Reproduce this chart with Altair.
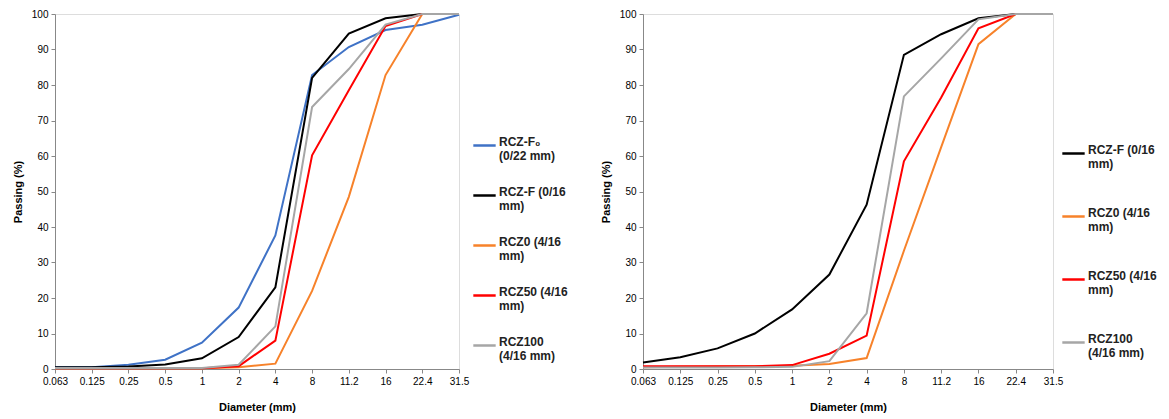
import altair as alt
import pandas as pd

sizes = ["0.063", "0.125", "0.25", "0.5", "1", "2", "4", "8", "11.2", "16", "22.4", "31.5"]

# Left panel
left_names = ["RCZ-F\u2080\n(0/22 mm)", "RCZ-F (0/16\nmm)", "RCZ0 (4/16\nmm)", "RCZ50 (4/16\nmm)", "RCZ100\n(4/16 mm)"]
left_colors = ["#3F72C6", "#000000", "#F7822A", "#FF0000", "#A6A6A6"]
left_f0 = [0.5, 0.5, 1.2, 2.6, 7.4, 17.3, 37.6, 82.8, 90.7, 95.5, 97.0, 99.8]
left_f = [0.5, 0.5, 0.7, 1.3, 3.0, 9.0, 23.0, 82.0, 94.5, 98.8, 100.0, 100.0]
left_z0 = [0.2, 0.2, 0.2, 0.2, 0.2, 0.5, 1.5, 22.0, 48.5, 82.8, 100.0, 100.0]
left_z50 = [0.2, 0.2, 0.2, 0.2, 0.2, 0.8, 8.0, 60.2, 78.5, 96.6, 100.0, 100.0]
left_z100 = [0.3, 0.3, 0.3, 0.3, 0.3, 1.2, 12.0, 73.8, 84.5, 97.0, 100.0, 100.0]

# Right panel
right_names = ["RCZ-F (0/16\nmm)", "RCZ0 (4/16\nmm)", "RCZ50 (4/16\nmm)", "RCZ100\n(4/16 mm)"]
right_colors = ["#000000", "#F7822A", "#FF0000", "#A6A6A6"]
right_f = [1.8, 3.3, 5.8, 10.0, 16.8, 26.6, 46.3, 88.5, 94.3, 98.8, 100.0, 100.0]
right_z0 = [0.5, 0.6, 0.7, 0.8, 0.9, 1.4, 3.1, 33.3, 62.5, 91.5, 100.0, 100.0]
right_z50 = [0.8, 0.8, 0.8, 0.8, 1.1, 4.3, 9.4, 58.5, 76.5, 96.0, 100.0, 100.0]
right_z100 = [0.4, 0.4, 0.4, 0.5, 0.6, 2.2, 15.7, 76.8, 87.5, 98.5, 100.0, 100.0]

FONT = "Liberation Sans"


def long_df(names, series):
    rows = []
    for n, vals in zip(names, series):
        for i, (s, v) in enumerate(zip(sizes, vals)):
            rows.append({"size": s, "pass": v, "series": n, "order": i})
    return pd.DataFrame(rows)


def panel(names, colors, series, width, legend_x, legend_y, row_pad):
    df = long_df(names, series)
    return alt.Chart(df).mark_line(strokeWidth=2).encode(
        x=alt.X("size:O", sort=sizes, scale=alt.Scale(type="point", padding=0),
                title="Diameter (mm)",
                axis=alt.Axis(labelAngle=0, ticks=True, tickSize=4, grid=False,
                              labelPadding=3, titlePadding=15)),
        y=alt.Y("pass:Q", scale=alt.Scale(domain=[0, 100], nice=False),
                title="Passing (%)",
                axis=alt.Axis(values=list(range(0, 101, 10)), tickSize=4, grid=False,
                              labelPadding=3, titlePadding=8)),
        color=alt.Color("series:N", sort=names,
                        scale=alt.Scale(domain=names, range=colors),
                        legend=alt.Legend(title=None, orient="none",
                                          legendX=legend_x, legendY=legend_y,
                                          symbolType="stroke", symbolSize=500,
                                          symbolStrokeWidth=2.5,
                                          labelExpr="split(datum.label, '\\n')",
                                          labelBaseline="alphabetic",
                                          labelFontSize=12, labelFontWeight="bold",
                                          labelFont=FONT, labelColor="#222",
                                          labelLimit=200, labelOffset=2,
                                          rowPadding=row_pad)),
        order="order:Q",
    ).properties(width=width, height=355)


left = panel(left_names, left_colors, [left_f0, left_f, left_z0, left_z50, left_z100], 404, 404 + 13, 119, 21)
right = panel(right_names, right_colors, [right_f, right_z0, right_z50, right_z100], 410, 410 + 8, 127, 34)

chart = alt.hconcat(left, right, spacing=30).resolve_scale(color="independent").configure_view(
    stroke="#555", strokeWidth=1.2
).configure_axis(
    labelFont=FONT, titleFont=FONT, labelFontSize=12, titleFontSize=12,
    labelFontWeight="bold", titleFontWeight="bold", labelColor="#222", titleColor="#222",
    domainColor="#555", tickColor="#555", domainWidth=1.2
).configure(padding={"left": 3, "top": 0, "right": 0, "bottom": 0})

chart.save("out.html", embed_options={"renderer": "svg", "actions": False})
